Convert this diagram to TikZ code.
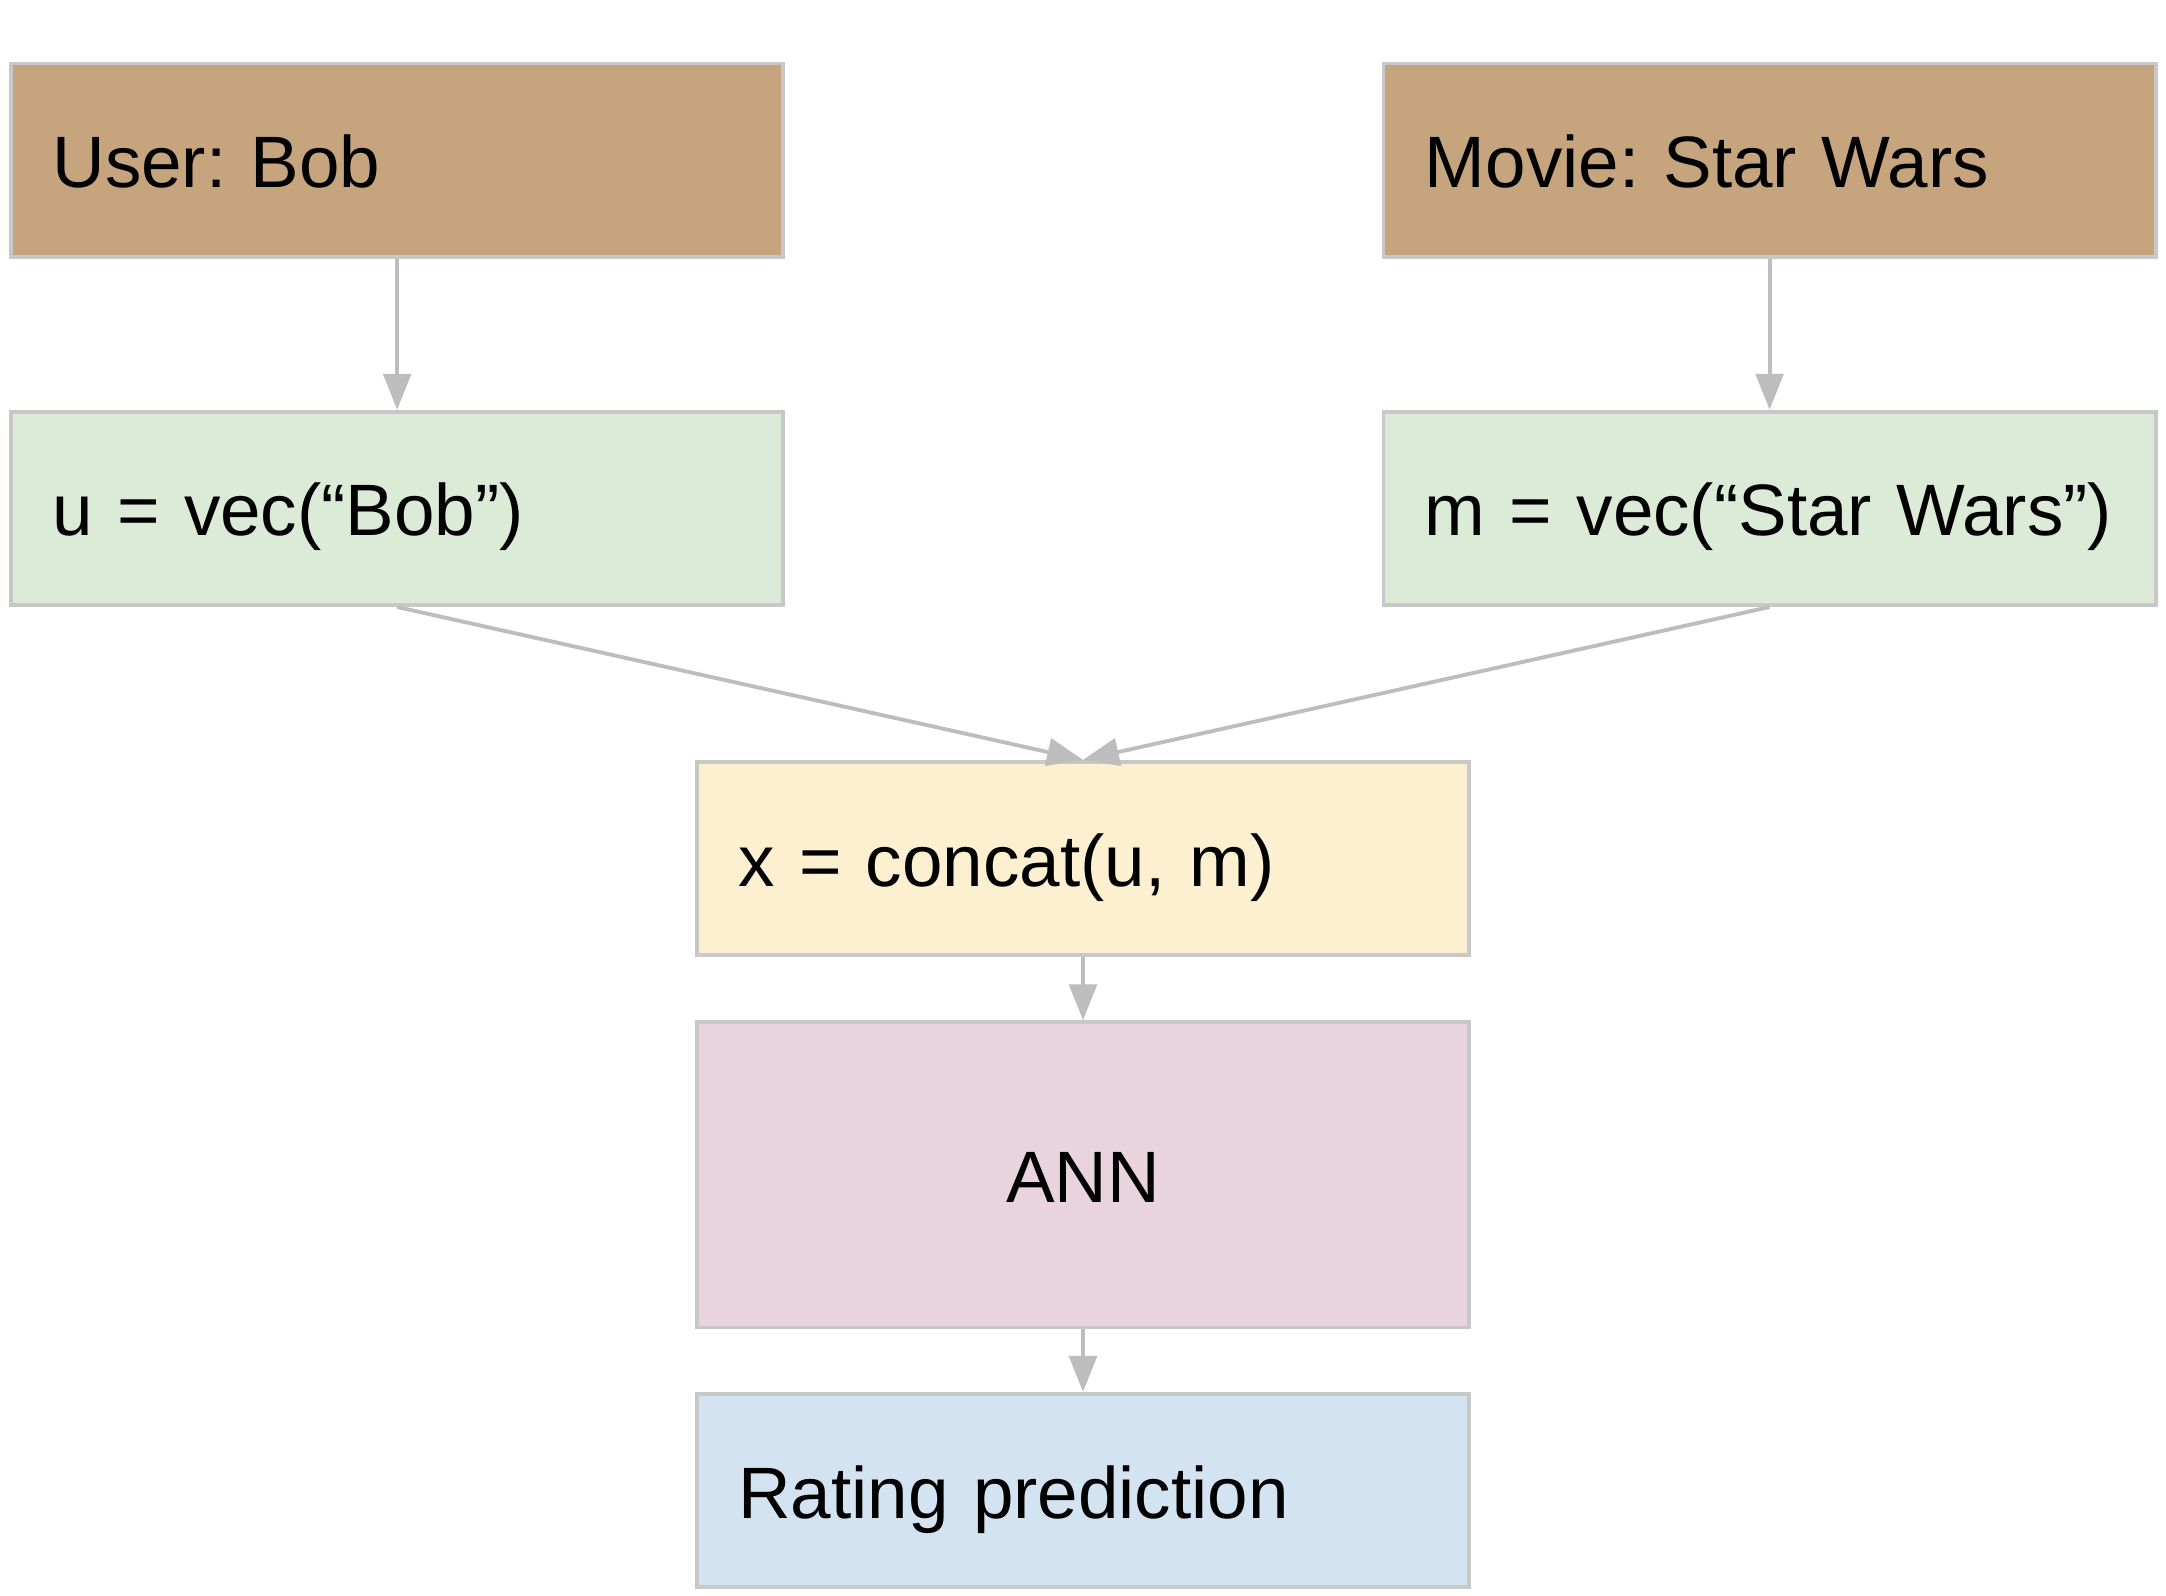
\documentclass[tikz,border=0pt]{standalone}
\usepackage{fontspec}
\setmainfont{Liberation Sans}
\frenchspacing
\usepackage{xcolor}
\definecolor{frame}{HTML}{C8C8C8}
\definecolor{link}{HTML}{BDBDBD}
\definecolor{brown}{HTML}{C6A47E}
\definecolor{green}{HTML}{DCEAD8}
\definecolor{yellow}{HTML}{FDF0D1}
\definecolor{pink}{HTML}{E9D3DC}
\definecolor{blue}{HTML}{D3E3F2}
\usetikzlibrary{
    arrows.meta,
    positioning,
}

\begin{document}
\begin{tikzpicture}[%
    on grid,
    node distance=2.52cm,
    every node/.style={
        font=\fontsize{15}{18}\selectfont,
        rectangle,
        draw=frame,
        line width=0.8pt,
        minimum width=5.59cm,
        minimum height=1.4cm,
        inner xsep=0.3cm,
        inner ysep=0,
        text height=0.4cm,
        text depth=0cm,
    },
    leftbox/.style={
        text width=4.99cm,
        align=left,
    },
    input/.style={leftbox, fill=brown},
    embed/.style={leftbox, fill=green},
    merge/.style={leftbox, fill=yellow},
    net/.style={fill=pink, minimum height=2.21cm},
    output/.style={leftbox, fill=blue},
    link/.style={
        draw=link,
        line width=0.8pt,
        -{Triangle[length=0.26cm,width=0.2cm]}
    }
]

\useasboundingbox (0, 0) rectangle (15.68, -11.55);

% inputs
\node [input] (user) at (2.875, -1.16) {User: Bob};
\node [input] (movie) at (12.81, -1.16) {Movie: Star Wars};

% embeddings
\node [embed, below=of user] (uvec) {u = vec(“Bob”)};
\node [embed, below=of movie] (mvec) {m = vec(“Star Wars”)};

% network
\node [merge] (concat) at (7.84, -6.215) {x = concat(u, m)};
\node [net, below=2.29cm of concat] (ann) {ANN};
\node [output, below=2.285cm of ann] (rating) {Rating prediction};

\draw [link] (user) -- (uvec);
\draw [link] (movie) -- (mvec);
\draw [link] (uvec.south) -- (concat.north);
\draw [link] (mvec.south) -- (concat.north);
\draw [link] (concat) -- (ann);
\draw [link] (ann) -- (rating);

\end{tikzpicture}
\end{document}
